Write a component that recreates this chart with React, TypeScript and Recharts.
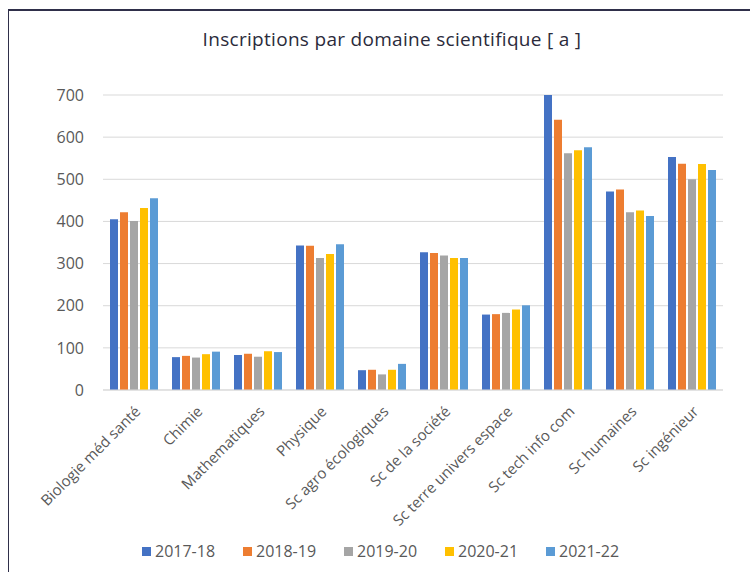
import { BarChart, Bar, XAxis, YAxis, CartesianGrid, Legend } from 'recharts';

const domaines = [
  'Biologie méd santé',
  'Chimie',
  'Mathematiques',
  'Physique',
  'Sc agro écologiques',
  'Sc de la société',
  'Sc terre univers espace',
  'Sc tech info com',
  'Sc humaines',
  'Sc ingénieur',
];

const annees = ['2017-18', '2018-19', '2019-20', '2020-21', '2021-22'];
const couleurs = ['#4472C4', '#ED7D31', '#A5A5A5', '#FFC000', '#5B9BD5'];

const v2017 = [405, 78, 83, 343, 47, 327, 179, 700, 471, 553];
const v2018 = [422, 81, 86, 342, 48, 325, 180, 641, 476, 537];
const v2019 = [401, 77, 79, 313, 37, 319, 183, 562, 422, 500];
const v2020 = [432, 85, 92, 323, 48, 313, 191, 569, 426, 536];
const v2021 = [455, 91, 90, 346, 62, 313, 201, 576, 413, 522];

const yTicks = [0, 100, 200, 300, 400, 500, 600, 700];

const series = [v2017, v2018, v2019, v2020, v2021];

const data = domaines.map((d, i) => {
  const row: Record<string, string | number> = { domaine: d };
  annees.forEach((a, k) => {
    row[a] = series[k][i];
  });
  return row;
});

const font = '"Open Sans", sans-serif';

function LegendeAnnees({ payload }: any) {
  return (
    <div style={{ display: 'flex', justifyContent: 'center', height: 24, alignItems: 'center', paddingLeft: 66 }}>
      {(payload || []).map((p: any) => (
        <div key={p.value} style={{ display: 'flex', alignItems: 'center', width: 101 }}>
          <span style={{ width: 9, height: 9, background: p.color, display: 'inline-block', marginRight: 4 }} />
          <span style={{ fontFamily: font, fontSize: 16, color: '#595959' }}>{p.value}</span>
        </div>
      ))}
    </div>
  );
}

export default function App() {
  return (
    <div style={{ position: 'absolute', left: 0, top: 0, width: 750, height: 572, background: '#fff' }}>
      {/* cadre gauche + haut */}
      <div style={{ position: 'absolute', left: 8, top: 9, width: 742, height: 563, borderLeft: '1.5px solid #2f2f4a', borderTop: '2px solid #2f2f4a' }} />
      <div
        style={{
          position: 'absolute',
          top: 26,
          left: 0,
          width: 784,
          textAlign: 'center',
          fontFamily: font,
          fontSize: 19,
          letterSpacing: 0.3,
          color: '#2b2b3b',
        }}
      >
        Inscriptions par domaine scientifique [ a ]
      </div>
      <BarChart
        width={750}
        height={572}
        data={data}
        margin={{ top: 95, right: 27, left: 0, bottom: 38 }}
        barCategoryGap={7}
        barGap={2}
      >
        <CartesianGrid vertical={false} stroke="#d9d9d9" />
        <XAxis
          dataKey="domaine"
          height={120}
          interval={0}
          angle={-45}
          textAnchor="end"
          tickLine={false}
          axisLine={{ stroke: '#d9d9d9' }}
          tickMargin={9}
          tick={{ fontFamily: font, fontSize: 15, fill: '#595959' }}
        />
        <YAxis
          width={103}
          domain={[0, 700]}
          ticks={yTicks}
          axisLine={false}
          tickLine={false}
          tickMargin={13}
          tick={{ fontFamily: font, fontSize: 16, fill: '#595959' }}
        />
        <Legend verticalAlign="bottom" wrapperStyle={{ bottom: 9 }} content={<LegendeAnnees />} />
        {annees.map((a, k) => (
          <Bar key={a} dataKey={a} fill={couleurs[k]} isAnimationActive={false} />
        ))}
      </BarChart>
    </div>
  );
}
